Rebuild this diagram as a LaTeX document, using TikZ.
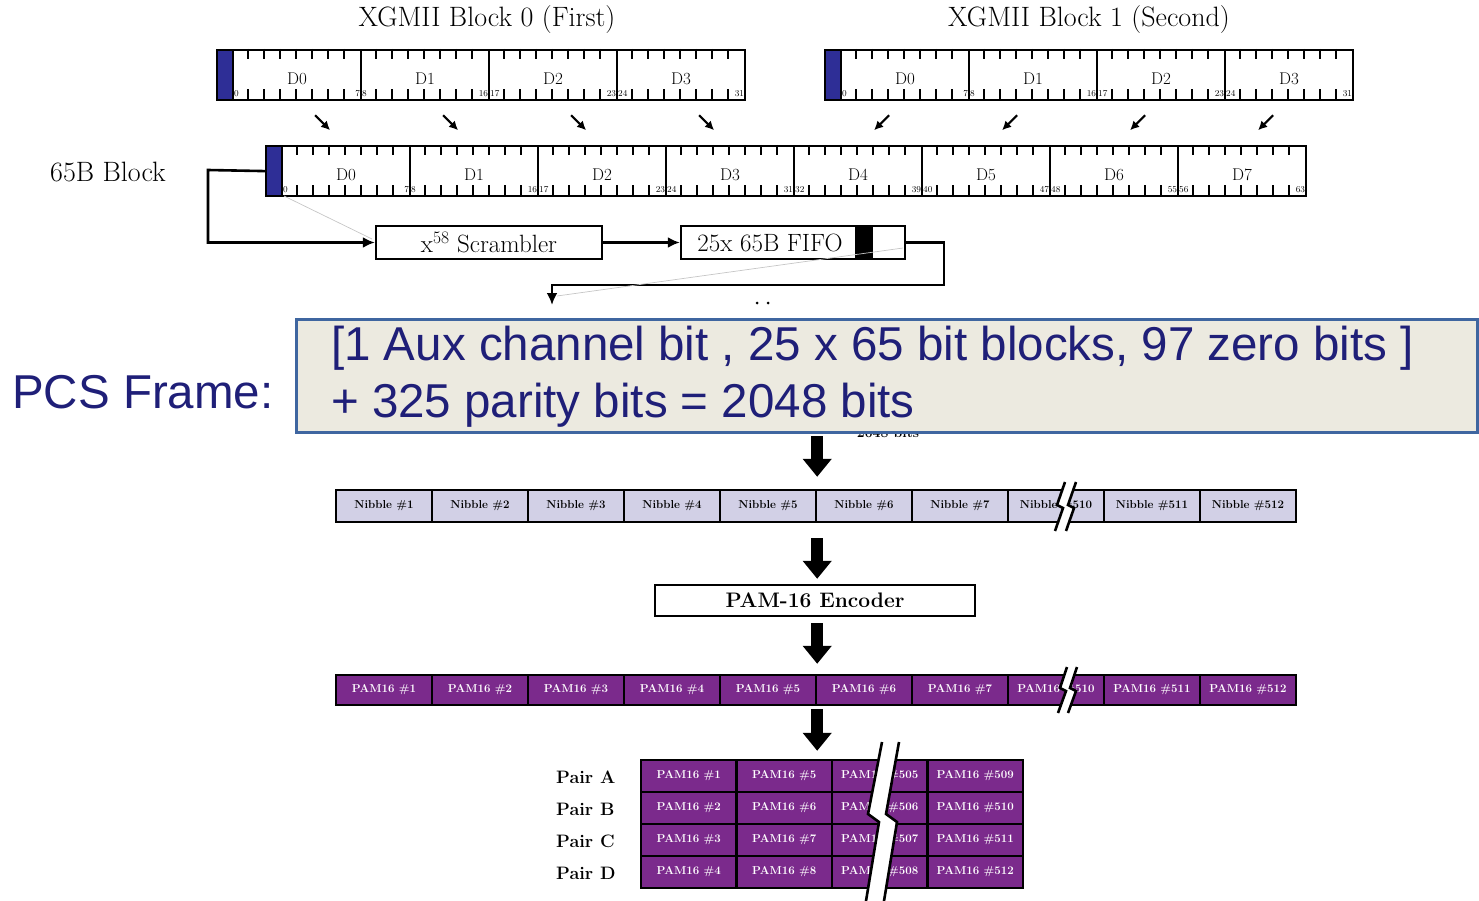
\documentclass[tikz,border=0pt]{standalone}
\usepackage{fontspec}
\newfontfamily\arialfont{Liberation Sans}
\usetikzlibrary{arrows.meta,positioning,calc}
\definecolor{lhcblue}{HTML}{2E2E96}
\definecolor{nibfill}{HTML}{D2D0E6}
\definecolor{pamfill}{HTML}{7B2A8C}
\definecolor{frameback}{HTML}{ECEAE0}
\definecolor{frameline}{HTML}{3F66A0}
\definecolor{frametext}{HTML}{1F1F78}

\begin{document}
\begin{tikzpicture}[
  x=1pt, y=-1pt,
  >={Latex[length=12pt,width=11pt]},
  every node/.style={inner sep=0pt},
  title/.style={font=\fontsize{28}{30}\selectfont},
  lhs/.style={draw, line width=2.2pt, fill=lhcblue, minimum width=16pt, minimum height=50pt, anchor=north west},
  seg/.style={draw, line width=2.2pt, minimum width=128pt, minimum height=50pt, anchor=north west},
  seglab/.style={font=\fontsize{17}{17}\selectfont},
  bitnum/.style={font=\fontsize{9}{9}\selectfont},
  tick/.style={line width=2.2pt},
  small/.style={line width=2.2pt, -{Latex[length=9pt,width=9pt]}},
  conn/.style={line width=2.6pt},
  faint/.style={gray!45, line width=0.7pt},
  pbox/.style={draw, line width=2.4pt, font=\fontsize{25}{25}\selectfont},
  nib/.style={draw, line width=2.4pt, fill=nibfill, minimum width=96pt, minimum height=32pt, font=\bfseries\fontsize{11.5}{11.5}\selectfont},
  pam/.style={draw, line width=2.4pt, fill=pamfill, text=white, minimum width=96pt, minimum height=30pt, font=\bfseries\fontsize{11.5}{11.5}\selectfont},
  cell/.style={minimum width=95.5pt, minimum height=32pt},
  pairlab/.style={anchor=west, font=\bfseries\fontsize{18}{18}\selectfont},
  frame/.style={draw=frameline, line width=3pt, fill=frameback, anchor=north west},
  frametxt/.style={text=frametext, anchor=base west, font=\arialfont\fontsize{47.5}{47.5}\selectfont},
  fat/.style={line width=12pt, -{Triangle[length=18pt,width=28pt]}},
  brk/.style={line width=2.6pt}
]
\useasboundingbox (0,0) rectangle (1479,901);

% 32-bit XGMII blocks and the 65B block
\node[title] (ttl0) at (487,20) {XGMII Block 0 (First)};
\node[title] (ttl1) at (1089,20) {XGMII Block 1 (Second)};
\node[title, anchor=west] (lbl65) at (50,172) {65B Block};
\foreach \bx/\by/\n/\nm in {216/49/3/xa,824/49/3/xb,265/145/7/bb} {
  \node[lhs] (\nm) at (\bx,\by) {};
  \foreach \i/\lo/\hi in {0/0/7,1/8/16,2/17/23,3/24/31,4/32/39,5/40/47,6/48/55,7/56/63} {
    \ifnum\i>\n\relax\else
      \node[seg] (\nm\i) at (\bx+16+128*\i,\by) {};
      \node[seglab] at ([yshift=-4pt]\nm\i.center) {D\i};
      \node[bitnum, anchor=south west] at ([shift={(2pt,4pt)}]\nm\i.south west) {\lo};
      \node[bitnum, anchor=south east] at ([shift={(-2pt,4pt)}]\nm\i.south east) {\hi};
      \foreach \k in {1,...,7}
        \draw[tick] (\bx+16+128*\i+16*\k,\by) -- ++(0,10) (\bx+16+128*\i+16*\k,\by+50) -- ++(0,-10);
    \fi
  }
}
\foreach \i in {0,...,3} {
  \draw[small] ([shift={(18pt,-14pt)}]xa\i.south) -- ++(15,15);
  \draw[small] ([shift={(-16pt,-14pt)}]xb\i.south) -- ++(-15,15);
}

% scrambler and FIFO
\node[pbox, minimum width=226pt, minimum height=33pt] (scr) at (489,242.5) {x\textsuperscript{58} Scrambler};
\node[pbox, minimum width=224pt, minimum height=33pt] (fifo) at (793,242.5) {};
\node[font=\fontsize{25}{25}\selectfont] (fifotxt) at (770,242.5) {25x 65B FIFO};
\fill (855,227) rectangle (873,258);
\coordinate (lft) at (208,170);
\coordinate (fturn) at (944,285);
\coordinate (fout) at (552,305);
\draw[conn,->] (bb.west) -- (lft) |- (scr.west);
\draw[conn,->] (scr) -- (fifo);
\draw[conn,->] (fifo.east) -| (fturn) -- (fturn -| fout) -- (fout);
\draw[faint] (284,196) -- (372,239);
\draw[faint] (903,248) -- (557,296);
\fill (757,303) circle (1.5) (768,303) circle (1.5);

% PCS frame
\node[font=\bfseries\fontsize{14}{14}\selectfont] (bits) at (888,433) {2048 bits};
\node[frame, minimum width=1181pt, minimum height=113pt] (pcs) at (295,318) {};
\node[frametxt] (line1) at (331,360) {[1 Aux channel bit , 25 x 65 bit blocks, 97 zero bits ]};
\node[frametxt] (line2) at (331,417) {+ 325 parity bits = 2048 bits};
\node[frametxt] (pcslab) at (12,408) {PCS Frame:};

% nibbles, encoder, PAM16 symbols
\foreach \i/\lab in {1/\#1,2/\#2,3/\#3,4/\#4,5/\#5,6/\#6,7/\#7,8/\#510,9/\#511,10/\#512} {
  \node[nib] (nib\i) at (288+96*\i,506) {Nibble \lab};
  \node[pam] (pam\i) at (288+96*\i,690) {PAM16 \lab};
}
\node[pbox, minimum width=320pt, minimum height=31pt, font=\bfseries\fontsize{21}{21}\selectfont] (enc) at (815,600.5) {PAM-16 Encoder};
\path[fill=white] (1065,482) -- (1057,505) -- (1063,508) -- (1055,531) -- (1066,531) -- (1074,508) -- (1068,505) -- (1076,482) -- cycle;
\draw[brk] (1065,482) -- (1057,505) -- (1063,508) -- (1055,531) (1076,482) -- (1068,505) -- (1074,508) -- (1066,531);
\path[fill=white] (1067,667) -- (1060,688) -- (1066,691) -- (1058,713) -- (1068,713) -- (1076,691) -- (1070,688) -- (1077,667) -- cycle;
\draw[brk] (1067,667) -- (1060,688) -- (1066,691) -- (1058,713) (1077,667) -- (1070,688) -- (1076,691) -- (1068,713);

% pairs
\foreach \r/\pr/\a/\b/\c/\d in {0/A/1/5/505/509,1/B/2/6/506/510,2/C/3/7/507/511,3/D/4/8/508/512} {
  \node[pam, cell] (g\r a) at (688.75,776+32*\r) {PAM16 \#\a};
  \node[pam, cell] (g\r b) at (784.25,776+32*\r) {PAM16 \#\b};
  \node[pam, cell] (g\r c) at (879.75,776+32*\r) {PAM16 \#\c};
  \node[pam, cell] (g\r d) at (975.25,776+32*\r) {PAM16 \#\d};
  \node[pairlab] (pair\pr) at (556,777+32*\r) {Pair \pr};
}
\path[fill=white] (882,742) -- (868,814) -- (879,822) -- (866,901) -- (884,901) -- (897,822) -- (886,814) -- (899,742) -- cycle;
\draw[brk] (882,742) -- (868,814) -- (879,822) -- (866,901) (899,742) -- (886,814) -- (897,822) -- (884,901);

% big arrows
\draw[fat, shorten <=2pt, shorten >=12pt] (pcs.south -| nib5.north east) -- (nib5.north east);
\draw[fat, shorten <=15pt, shorten >=5pt] (nib5.south east) -- (nib5.south east |- enc.north);
\draw[fat, shorten <=6pt, shorten >=10pt] (enc.south -| pam5.north east) -- (pam5.north east);
\draw[fat, shorten <=3pt, shorten >=8pt] (pam5.south east) -- (pam5.south east |- g0a.north);
\end{tikzpicture}
\end{document}
